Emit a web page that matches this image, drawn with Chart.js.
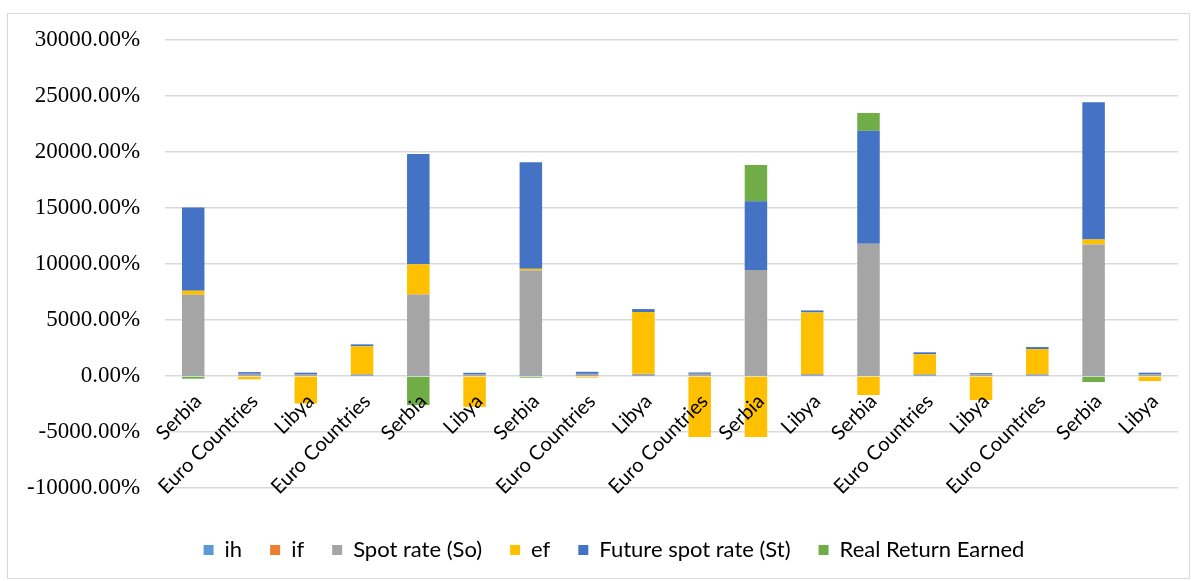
<!DOCTYPE html>
<html>
<head>
<meta charset="utf-8">
<script src="https://cdn.jsdelivr.net/npm/chart.js@4"></script>
<style>
  html, body { margin: 0; padding: 0; background: #fff; }
  #wrap { position: relative; width: 1195px; height: 581px; }
  #frame { position: absolute; left: 7px; top: 13px; width: 1183px; height: 566px; border: 1px solid #d9d9d9; box-sizing: border-box; pointer-events: none; }
  canvas { position: absolute; left: 0; top: 0; }
</style>
</head>
<body>
<div id="wrap">
  <canvas id="c" width="1195" height="581"></canvas>
  <div id="frame"></div>
</div>
<script>
const categories = ["Serbia","Euro Countries","Libya","Euro Countries","Serbia","Libya","Serbia","Euro Countries","Libya","Euro Countries","Serbia","Libya","Serbia","Euro Countries","Libya","Euro Countries","Serbia","Libya"];

const ih   = [30, 30, 30, 30, 30, 30, 30, 30, 30, 30, 30, 30, 30, 30, 30, 30, 30, 30];
const iff  = [15, 15, 15, 15, 15, 15, 15, 15, 15, 15, 15, 15, 15, 15, 15, 15, 15, 15];
const spot = [7210, 150, 130, 120, 7230, 130, 9370, 150, 150, 150, 9430, 130, 11760, 120, 120, 120, 11700, 120];
const ef   = [360, -300, -2450, 2480, 2700, -2750, 150, -150, 5510, -5450, -5450, 5500, -1700, 1770, -2150, 2240, 450, -450];
const fut  = [7430, 150, 120, 180, 9840, 110, 9520, 180, 270, 110, 6130, 180, 10090, 180, 90, 180, 12250, 130];
const rre  = [-240, 0, 0, 0, -2600, 0, -150, 0, 0, 20, 3240, 0, 1590, 0, 0, 0, -540, 0];

const yTicksMin = -10000, yTicksMax = 30000, yStep = 5000;

const seriesNames = ["ih", "if", "Spot rate (So)", "ef", "Future spot rate (St)", "Real Return Earned"];
const seriesData = [ih, iff, spot, ef, fut, rre];
const seriesColors = ["#5B9BD5", "#ED7D31", "#A5A5A5", "#FFC000", "#4472C4", "#70AD47"];

const zeroLabels = {
  id: 'zeroLabels',
  afterDatasetsDraw(chart) {
    const ctx = chart.ctx;
    const xs = chart.scales.x, ys = chart.scales.y;
    const y0 = ys.getPixelForValue(0);
    ctx.save();
    ctx.font = '20px Lato';
    ctx.fillStyle = '#000';
    ctx.textAlign = 'right';
    ctx.textBaseline = 'middle';
    categories.forEach((c, i) => {
      const x = xs.getPixelForValue(i);
      ctx.save();
      ctx.translate(x + 5, y0 + 22);
      ctx.rotate(-Math.PI / 4);
      ctx.fillText(c, 0, 0);
      ctx.restore();
    });
    ctx.restore();
  }
};

const legendShift = {
  id: 'legendShift',
  afterLayout(chart) {
    if (chart.legend) { chart.legend.left += 24; chart.legend.right += 24; }
  }
};

new Chart(document.getElementById('c'), {
  type: 'bar',
  data: {
    labels: categories,
    datasets: seriesNames.map((n, i) => ({
      label: n,
      data: seriesData[i],
      backgroundColor: seriesColors[i],
      borderWidth: 0,
      barPercentage: 0.4,
      categoryPercentage: 1.0
    }))
  },
  options: {
    responsive: false,
    animation: false,
    layout: { padding: { left: 2, right: 17, top: 40, bottom: 10 } },
    plugins: {
      legend: {
        position: 'bottom',
        labels: {
          font: { family: 'Lato', size: 22 },
          color: '#000',
          boxWidth: 10,
          boxHeight: 10,
          padding: 28
        }
      },
      tooltip: { enabled: false }
    },
    scales: {
      x: {
        stacked: true,
        grid: { display: false },
        border: { display: false },
        ticks: { display: false },
        afterFit: s => { s.height = 23; }
      },
      y: {
        stacked: true,
        min: yTicksMin,
        max: yTicksMax,
        ticks: {
          stepSize: yStep,
          padding: 25,
          color: '#000',
          font: { family: 'Liberation Serif', size: 23 },
          callback: v => v.toFixed(2) + '%'
        },
        grid: { color: '#d9d9d9', lineWidth: 1.5, drawTicks: false },
        border: { display: false }
      }
    }
  },
  plugins: [zeroLabels, legendShift]
});
</script>
</body>
</html>
